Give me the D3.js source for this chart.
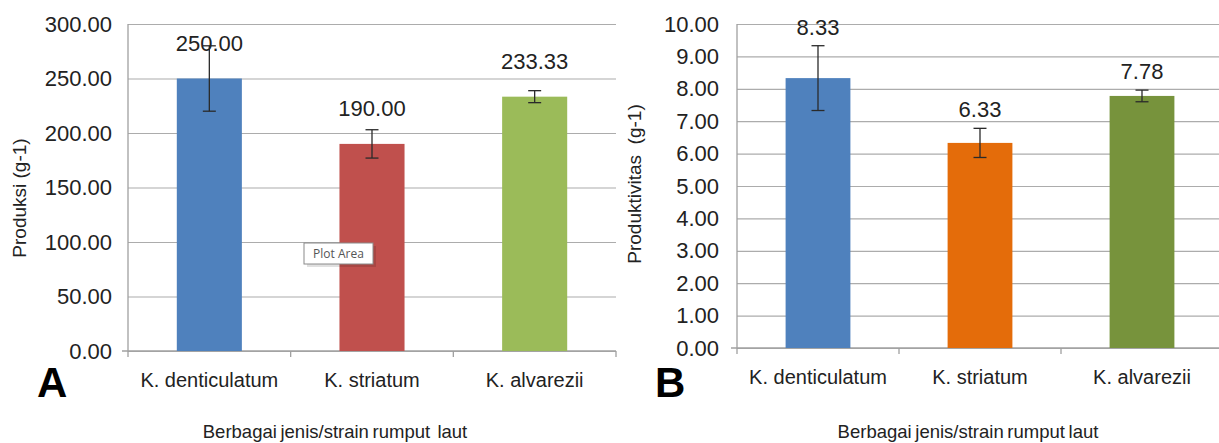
<!DOCTYPE html>
<html>
<head>
<meta charset="utf-8">
<script src="https://cdn.jsdelivr.net/npm/d3@7.9.0/dist/d3.min.js"></script>
<style>
  body { margin: 0; background: #fff; }
  svg { display: block; font-family: 'Liberation Sans', Arial, sans-serif; }
  svg text { white-space: pre; }
  .grid line { stroke: #acacac; stroke-width: 1.2; }
  .grid path { display: none; }
  .ylab text { fill: #222; font-size: 22px; }
  .ylab path, .ylab line { display: none; }
</style>
</head>
<body>
<svg id="chart" width="1219" height="443"></svg>
<script>
// Data
const categories = ['K. denticulatum', 'K. striatum', 'K. alvarezii'];

const produksi = [250.00, 190.00, 233.33];
const produksiErr = [30, 13, 5.5];
const produksiTicks = [0, 50, 100, 150, 200, 250, 300];

const produktivitas = [8.33, 6.33, 7.78];
const produktivitasErr = [1.0, 0.45, 0.18];
const produktivitasTicks = [0, 1, 2, 3, 4, 5, 6, 7, 8, 9, 10];

const svg = d3.select('#chart');

function drawPanel(cfg) {
    const g = svg.append('g');

    const x = d3.scaleBand()
        .domain(cfg.categories)
        .range([cfg.left, cfg.right])
        .paddingInner(0.6)
        .paddingOuter(0.3);

    const y = d3.scaleLinear()
        .domain([0, d3.max(cfg.ticks)])
        .range([cfg.bottom, cfg.top]);

    // gridlines
    g.append('g')
        .attr('class', 'grid')
        .attr('transform', `translate(${cfg.left}, 0)`)
        .call(d3.axisLeft(y)
            .tickValues(cfg.ticks)
            .tickFormat('')
            .tickSize(-(cfg.right - cfg.left)));

    // y tick labels
    g.append('g')
        .attr('class', 'ylab')
        .attr('transform', `translate(${cfg.left}, 0)`)
        .call(d3.axisLeft(y)
            .tickValues(cfg.ticks)
            .tickFormat(d3.format('.2f'))
            .tickSize(0)
            .tickPadding(cfg.tickPad));

    // axis lines
    g.append('line')
        .attr('x1', cfg.left).attr('x2', cfg.left)
        .attr('y1', cfg.top).attr('y2', cfg.bottom)
        .attr('stroke', '#a0a0a0').attr('stroke-width', 1.3);
    g.append('line')
        .attr('x1', cfg.left - 6).attr('x2', cfg.right)
        .attr('y1', cfg.bottom).attr('y2', cfg.bottom)
        .attr('stroke', '#a0a0a0').attr('stroke-width', 1.3);

    // category boundary ticks
    const step = (cfg.right - cfg.left) / cfg.categories.length;
    const bounds = d3.range(cfg.categories.length + 1).map(i => cfg.left + i * step);
    g.selectAll('line.ctick')
        .data(bounds)
        .join('line')
        .attr('class', 'ctick')
        .attr('x1', d => d).attr('x2', d => d)
        .attr('y1', cfg.bottom).attr('y2', cfg.bottom + 6)
        .attr('stroke', '#a0a0a0').attr('stroke-width', 1.3);

    const rows = cfg.categories.map((c, i) => ({
        cat: c, v: cfg.values[i], e: cfg.errors[i], color: cfg.colors[i]
    }));

    // bars
    g.selectAll('rect.bar')
        .data(rows)
        .join('rect')
        .attr('class', 'bar')
        .attr('x', d => x(d.cat))
        .attr('y', d => y(d.v))
        .attr('width', x.bandwidth())
        .attr('height', d => y(0) - y(d.v))
        .attr('fill', d => d.color);

    // error bars
    const eb = g.selectAll('g.err')
        .data(rows)
        .join('g')
        .attr('class', 'err')
        .attr('stroke', '#2a2a2a')
        .attr('stroke-width', 1.3);
    const cx = d => x(d.cat) + x.bandwidth() / 2;
    eb.append('line')
        .attr('x1', cx).attr('x2', cx)
        .attr('y1', d => y(d.v + d.e)).attr('y2', d => y(d.v - d.e));
    eb.append('line')
        .attr('x1', d => cx(d) - 6.5).attr('x2', d => cx(d) + 6.5)
        .attr('y1', d => y(d.v + d.e)).attr('y2', d => y(d.v + d.e));
    eb.append('line')
        .attr('x1', d => cx(d) - 6.5).attr('x2', d => cx(d) + 6.5)
        .attr('y1', d => y(d.v - d.e)).attr('y2', d => y(d.v - d.e));

    // value labels (A sits above the bar, B above the error bar)
    g.selectAll('text.val')
        .data(rows)
        .join('text')
        .attr('class', 'val')
        .attr('x', cx)
        .attr('y', d => cfg.labelOnErr ? y(d.v + d.e) - cfg.labelGap : y(d.v) - cfg.labelGap)
        .attr('text-anchor', 'middle')
        .attr('font-size', 22)
        .attr('fill', '#222')
        .text(d => d.v.toFixed(2));

    // category labels
    g.selectAll('text.cat')
        .data(rows)
        .join('text')
        .attr('class', 'cat')
        .attr('x', cx)
        .attr('y', cfg.bottom + 36)
        .attr('text-anchor', 'middle')
        .attr('font-size', 20)
        .attr('fill', '#222')
        .text(d => d.cat);

    // y title
    g.append('text')
        .attr('transform', `translate(${cfg.yTitleX}, ${cfg.yTitleY}) rotate(-90)`)
        .attr('text-anchor', 'middle')
        .attr('font-size', 19)
        .attr('fill', '#222')
        .text(cfg.yTitle);

    // x title
    g.append('text')
        .attr('x', cfg.xTitleX)
        .attr('y', 438)
        .attr('text-anchor', 'middle')
        .attr('font-size', 18.5)
        .attr('word-spacing', -1.5)
        .attr('fill', '#222')
        .text(cfg.xTitle);

    // panel letter
    g.append('text')
        .attr('x', cfg.letterX)
        .attr('y', 397)
        .attr('font-size', 42)
        .attr('font-weight', 'bold')
        .attr('fill', '#000')
        .text(cfg.letter);

    return { x, y, g };
}

drawPanel({
    categories,
    values: produksi,
    errors: produksiErr,
    ticks: produksiTicks,
    colors: ['#4f81bd', '#c0504d', '#9bbb59'],
    left: 128, right: 616, top: 24, bottom: 351,
    tickPad: 16, labelOnErr: false, labelGap: 28,
    yTitle: 'Produksi (g-1)', yTitleX: 26, yTitleY: 198,
    xTitle: 'Berbagai jenis/strain rumput  laut', xTitleX: 335,
    letter: 'A', letterX: 37,
});

drawPanel({
    categories,
    values: produktivitas,
    errors: produktivitasErr,
    ticks: produktivitasTicks,
    colors: ['#4f81bd', '#e46c0a', '#77933c'],
    left: 737, right: 1223, top: 24, bottom: 348,
    tickPad: 18, labelOnErr: true, labelGap: 11,
    yTitle: 'Produktivitas  (g-1)', yTitleX: 641, yTitleY: 184,
    xTitle: 'Berbagai jenis/strain rumput laut', xTitleX: 968,
    letter: 'B', letterX: 655,
});

// "Plot Area" tooltip left over in the screenshot
const tip = svg.append('g').attr('transform', 'translate(304, 243)');
tip.append('rect')
    .attr('x', 3).attr('y', 3).attr('width', 69).attr('height', 21)
    .attr('fill', '#000').attr('opacity', 0.12);
tip.append('rect')
    .attr('width', 69).attr('height', 21)
    .attr('fill', '#fff').attr('stroke', '#8a8a8a').attr('stroke-width', 1);
tip.append('text')
    .attr('x', 34.5).attr('y', 15)
    .attr('text-anchor', 'middle')
    .attr('font-family', "'Open Sans', 'DejaVu Sans', sans-serif")
    .attr('font-size', 12)
    .attr('fill', '#555')
    .text('Plot Area');
</script>
</body>
</html>
